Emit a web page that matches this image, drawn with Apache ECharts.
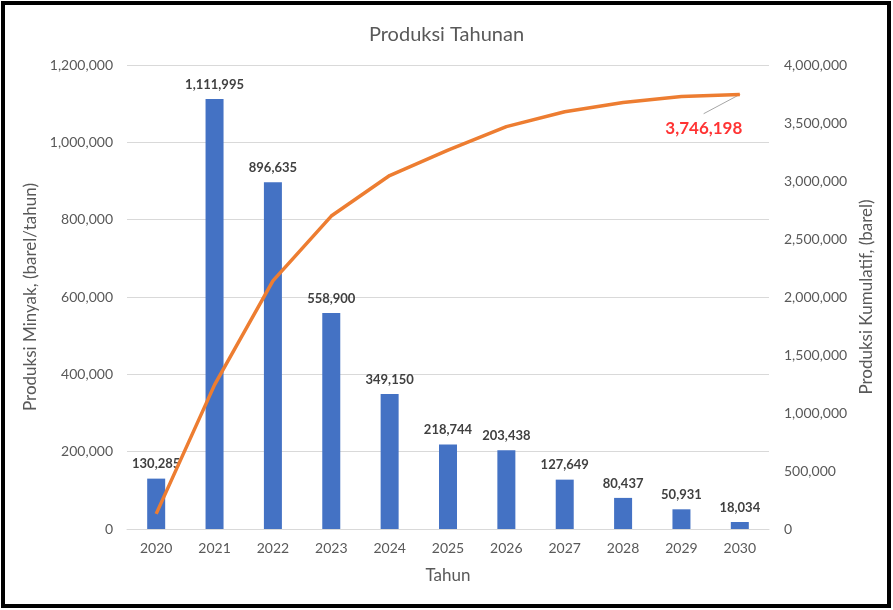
<!DOCTYPE html>
<html><head><meta charset="utf-8">
<script src="https://cdn.jsdelivr.net/npm/echarts@6/dist/echarts.min.js"></script>
<style>html,body{margin:0;padding:0;background:#fff}#c{width:893px;height:610px}</style>
</head><body><div id="c"></div>
<script>
const years = ['2020','2021','2022','2023','2024','2025','2026','2027','2028','2029','2030'];
const production = [130285,1111995,896635,558900,349150,218744,203438,127649,80437,50931,18034];
const cumulative = [130285,1242280,2138915,2697815,3046965,3265709,3469147,3596796,3677233,3728164,3746198];

const fmt = v => Number(v).toLocaleString('en-US');
const FONT = 'Lato, "Open Sans", sans-serif';
const chart = echarts.init(document.getElementById('c'), null, {renderer:'canvas'});
const last = cumulative.length - 1;
chart.setOption({
  animation:false,
  textStyle:{fontFamily:FONT},
  title:{text:'Produksi Tahunan', left:'center', top:20,
    textStyle:{fontFamily:FONT, fontSize:20, fontWeight:'normal', color:'#595959'}},
  graphic:[{type:'rect', shape:{x:3, y:3, width:886, height:603},
    style:{fill:'none', stroke:'#000', lineWidth:4}, silent:true}],
  grid:{left:127, right:124, top:65, bottom:81},
  xAxis:[{type:'category', data:years,
    axisLine:{lineStyle:{color:'#d9d9d9'}}, axisTick:{show:false},
    axisLabel:{color:'#595959', fontSize:14, margin:12, fontFamily:FONT},
    name:'Tahun', nameLocation:'middle', nameGap:38,
    nameTextStyle:{color:'#595959', fontSize:17, fontFamily:FONT}},
    {type:'value', min:-0.5, max:years.length-0.5, show:false}],
  yAxis:[{type:'value', min:0, max:1200000, interval:200000,
      axisLine:{show:false, onZero:false}, axisTick:{show:false},
      axisLabel:{color:'#595959', fontSize:14, margin:14, formatter:fmt, fontFamily:FONT},
      splitLine:{lineStyle:{color:'#d9d9d9'}},
      name:'Produksi Minyak, (barel/tahun)', nameLocation:'middle', nameGap:73,
      nameTextStyle:{color:'#595959', fontSize:17, fontFamily:FONT}},
    {type:'value', min:0, max:4000000, interval:500000, position:'right',
      axisLabel:{color:'#595959', fontSize:14, margin:15, formatter:fmt, fontFamily:FONT},
      splitLine:{show:false}, axisLine:{show:false, onZero:false}, axisTick:{show:false},
      name:'Produksi Kumulatif, (barel)', nameLocation:'middle', nameGap:80,
      nameTextStyle:{color:'#595959', fontSize:17, fontFamily:FONT}}],
  series:[
    {type:'bar', data:production, barWidth:18, itemStyle:{color:'#4472C4'},
      label:{show:true, position:'top', distance:8, formatter:p=>fmt(p.value),
        color:'#404040', fontWeight:'bold', fontSize:13, fontFamily:FONT}},
    {type:'line', xAxisIndex:1, yAxisIndex:1, data:[[last, cumulative[last]],[last-0.62, 3580000]],
      symbol:'none', silent:true, lineStyle:{color:'#a6a6a6', width:1}, z:2},
    {type:'line', yAxisIndex:1, data:cumulative,
      symbol:'none', smooth:false, lineStyle:{color:'#ED7D31', width:3.5}, z:3},
    {type:'scatter', yAxisIndex:1, data:[[last, cumulative[last]]],
      symbolSize:1, itemStyle:{color:'#ED7D31'}, z:4,
      label:{show:true, position:'inside', formatter:p=>fmt(p.value[1]),
        offset:[-36, 34],
        color:'#ff0000', fontWeight:'bold', fontSize:17, fontFamily:FONT}}
  ]
});
</script></body></html>
